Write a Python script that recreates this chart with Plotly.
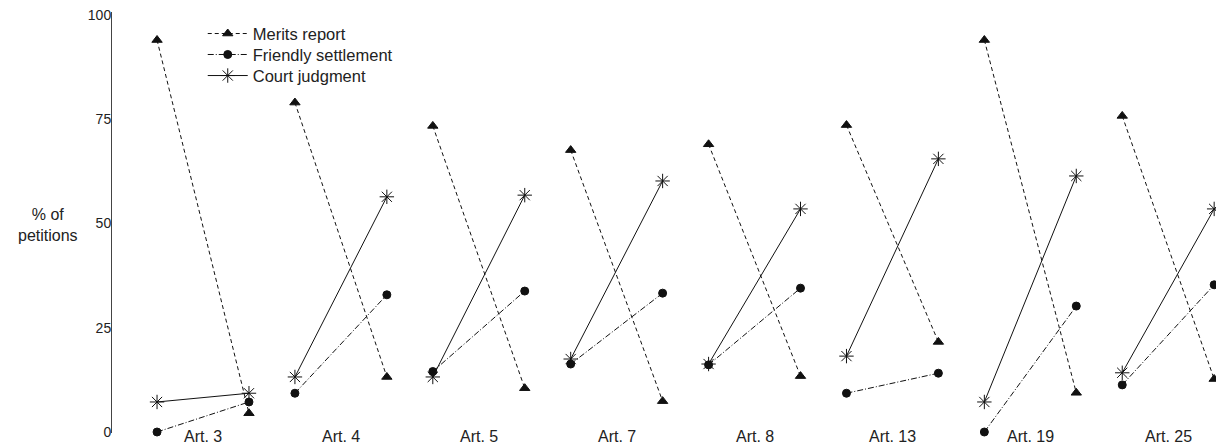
import plotly.graph_objects as go

articles = ["Art. 3", "Art. 4", "Art. 5", "Art. 7", "Art. 8", "Art. 13", "Art. 19", "Art. 25"]
merits_before = [94, 79, 73.4, 67.6, 69, 73.6, 94, 75.8]
merits_after = [4.5, 13.2, 10.5, 7.4, 13.4, 21.6, 9.4, 12.7]
friendly_before = [0, 9.3, 14.5, 16.3, 16.1, 9.3, 0, 11.3]
friendly_after = [7.2, 32.9, 33.8, 33.3, 34.5, 14.1, 30.2, 35.3]
court_before = [7.2, 13.2, 13.2, 17.5, 16.3, 18.2, 7.2, 14.2]
court_after = [9.3, 56.4, 56.8, 60.2, 53.5, 65.5, 61.4, 53.5]
y_ticks = [0, 25, 50, 75, 100]


def segs(before, after):
    xs, ys = [], []
    for i, (b, a) in enumerate(zip(before, after)):
        xs += [3 * i, 3 * i + 2, None]
        ys += [b, a, None]
    return xs, ys


fig = go.Figure()
series = [
    ("Merits report", merits_before, merits_after, "4px,3px", "triangle-up", 9, "legend"),
    ("Friendly settlement", friendly_before, friendly_after, "6px,2px,1px,2px", "circle", 8, "legend2"),
    ("Court judgment", court_before, court_after, "solid", "asterisk-open", 12, "legend3"),
]
for name, b, a, dash, sym, size, leg in series:
    xs, ys = segs(b, a)
    fig.add_trace(go.Scatter(
        x=xs, y=ys, name=name, mode="lines+markers",
        line=dict(color="#111111", width=1, dash=dash),
        marker=dict(symbol=sym, size=size, color="#111111",
                    line=dict(color="#111111", width=1)),
        cliponaxis=False, connectgaps=False, legend=leg,
    ))

annotations = []
for i, art in enumerate(articles):
    annotations.append(dict(
        x=3 * i + 1, y=0, xref="x", yref="paper", text=art, showarrow=False,
        yanchor="middle", yshift=-3, font=dict(size=16, color="#222222")))
annotations.append(dict(
    x=0, y=0.494, xref="paper", yref="paper", text="% of<br>petitions",
    showarrow=False, xanchor="center", yanchor="middle", xshift=-64,
    font=dict(size=16, color="#222222")))

leg_common = dict(x=0.0822, xanchor="left", yanchor="top", font=dict(size=16.5),
                  bgcolor="rgba(0,0,0,0)", itemwidth=40)

fig.update_layout(
    width=1216, height=447,
    margin=dict(l=112, r=0, t=12, b=14),
    paper_bgcolor="white", plot_bgcolor="white",
    font=dict(family="Arial, Liberation Sans, sans-serif", color="#222222"),
    xaxis=dict(range=[-0.98, 23.04], showgrid=False, zeroline=False,
               showline=False, showticklabels=False, ticks=""),
    yaxis=dict(range=[-0.24, 100.72], showgrid=False, zeroline=False,
               showline=True, linecolor="#444444", linewidth=1,
               tickvals=y_ticks, ticks="", tickfont=dict(size=14),
               ticklabelstandoff=-3, ticklabeloverflow="allow"),
    legend=dict(y=0.9898, **leg_common),
    legend2=dict(y=0.940, **leg_common),
    legend3=dict(y=0.890, **leg_common),
    annotations=annotations,
    showlegend=True,
)

fig.write_html(
    "out.html",
    config={"displayModeBar": False},
    post_script="document.body.style.margin='0';document.body.style.overflow='hidden';",
)
